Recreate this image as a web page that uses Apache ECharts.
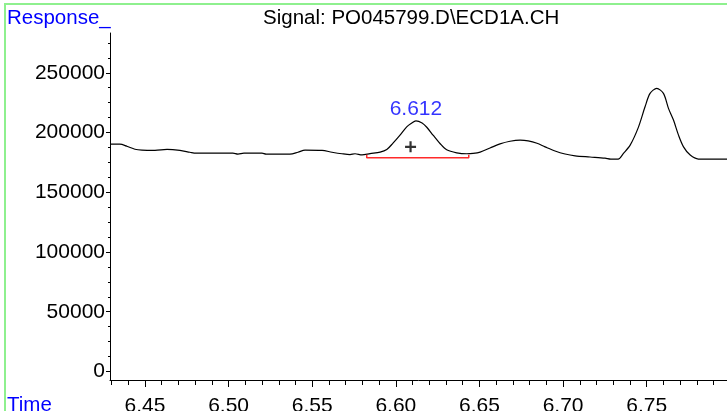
<!DOCTYPE html>
<html>
<head>
<meta charset="utf-8">
<script src="https://cdn.jsdelivr.net/npm/echarts@6/dist/echarts.min.js"></script>
<style>
html, body { margin: 0; padding: 0; background: #fff; }
#main { width: 727px; height: 411px; }
</style>
</head>
<body>
<div id="main"></div>
<script>
var chartDom = document.getElementById('main');
var myChart = echarts.init(chartDom);
var option;

// retention time (min) and detector response of the trace
var times = [6.4291, 6.4350, 6.4392, 6.4440, 6.4482, 6.4560, 6.4632, 6.4709, 6.4769, 6.4805,
    6.4919, 6.5026, 6.5056, 6.5092, 6.5200, 6.5224, 6.5367, 6.5415, 6.5457, 6.5559,
    6.5618, 6.5678, 6.5726, 6.5756, 6.5798, 6.5846, 6.5906, 6.5946, 6.5983, 6.6025,
    6.6065, 6.6091, 6.6120, 6.6157, 6.6185, 6.6224, 6.6264, 6.6304, 6.6364, 6.6424,
    6.6462, 6.6504, 6.6563, 6.6623, 6.6683, 6.6743, 6.6791, 6.6844, 6.6892, 6.6952,
    6.7012, 6.7072, 6.7161, 6.7251, 6.7285, 6.7329, 6.7361, 6.7401, 6.7450, 6.7490,
    6.7520, 6.7560, 6.7600, 6.7630, 6.7660, 6.7690, 6.7720, 6.7760, 6.7809, 6.7880, 6.7981];
var response = [190200, 190200, 188500, 186000, 185200, 185000, 185800, 185000, 183500, 182700,
    182700, 182700, 181900, 182700, 182700, 181900, 181900, 183500, 185200, 185000,
    183500, 182200, 181500, 182200, 181300, 182400, 183600, 185800, 191100, 197800,
    204700, 207500, 209800, 208000, 204400, 197500, 190800, 185500, 183000, 182200,
    182500, 183600, 187000, 190500, 192700, 193600, 193000, 191000, 188000, 184500,
    182000, 180500, 179500, 178500, 177700, 177700, 182500, 189400, 204300, 221500,
    232700, 236900, 232700, 220200, 210400, 197800, 188000, 181100, 177800, 177800, 177800];

// integrated peak
var peakTime = 6.612;
var peakHeight = 209800;
var peakLabel = '6.612';
var apexMark = [6.6088, 188000];
var baseStart = 6.5826;
var baseEnd = 6.6436;
var baseLevel = 178800;
var baseTickTop = 181300;

// axis ticks
var xMajor = [6.45, 6.50, 6.55, 6.60, 6.65, 6.70, 6.75];
var xMinor = [6.43, 6.44, 6.46, 6.47, 6.48, 6.49, 6.51, 6.52, 6.53, 6.54, 6.56, 6.57, 6.58, 6.59,
    6.61, 6.62, 6.63, 6.64, 6.66, 6.67, 6.68, 6.69, 6.71, 6.72, 6.73, 6.74, 6.76, 6.77, 6.78, 6.79];
var yMajor = [0, 50000, 100000, 150000, 200000, 250000];
var yMinor = [12500, 25000, 37500, 62500, 75000, 87500, 112500, 125000, 137500, 162500,
    175000, 187500, 212500, 225000, 237500, 262500, 275000];

var xMin = 6.4291, xMax = 6.798;
var yMin = -7120, yMax = 283270;

var font = 'Liberation Sans, Arial, sans-serif';

var trace = times.map(function (t, i) { return [t, response[i]]; });
var baseline = [[baseStart, baseTickTop], [baseStart, baseLevel], [baseEnd, baseLevel], [baseEnd, baseTickTop]];

function xAxisDef(ticks, len, showLine, showLabels) {
    return {
        type: 'value', min: xMin, max: xMax, position: 'bottom',
        axisLine: { show: showLine, onZero: false, lineStyle: { color: '#000', width: 1 } },
        axisTick: { show: true, customValues: ticks, length: len, lineStyle: { color: '#000' } },
        axisLabel: {
            show: showLabels, customValues: ticks, margin: 16,
            fontFamily: font, fontSize: 21, color: '#000',
            formatter: function (v) { return v.toFixed(2); }
        },
        splitLine: { show: false }
    };
}
function yAxisDef(ticks, len, showLine, showLabels) {
    return {
        type: 'value', min: yMin, max: yMax, position: 'left',
        axisLine: { show: showLine, onZero: false, lineStyle: { color: '#000', width: 1 } },
        axisTick: { show: true, customValues: ticks, length: len, lineStyle: { color: '#000' } },
        axisLabel: {
            show: showLabels, customValues: ticks, margin: 5,
            fontFamily: font, fontSize: 21, color: '#000',
            formatter: function (v) { return String(v); }
        },
        splitLine: { show: false }
    };
}

option = {
    animation: false,
    backgroundColor: '#fff',
    title: {
        text: 'Signal: PO045799.D\\ECD1A.CH',
        left: 263, top: 8, padding: 0,
        textStyle: { fontFamily: font, fontSize: 20.5, fontWeight: 'normal', color: '#000' }
    },
    grid: { left: 110, right: 0, top: 33, bottom: 31, outerBoundsMode: 'none', containLabel: false },
    xAxis: [xAxisDef(xMajor, 7, true, true), xAxisDef(xMinor, 5, false, false)],
    yAxis: [yAxisDef(yMajor, 4, true, true), yAxisDef(yMinor, 2, false, false)],
    graphic: [
        { type: 'rect', shape: { x: 5, y: 4, width: 730, height: 420 }, style: { fill: 'none', stroke: '#8ef08e', lineWidth: 2 } },
        { type: 'text', left: 7, top: 8, style: { text: 'Response_', fontFamily: font, fontSize: 20.5, fill: '#0000ff' } },
        { type: 'text', left: 7, top: 395, style: { text: 'Time', fontFamily: font, fontSize: 20.5, fill: '#0000ff' } }
    ],
    series: [
        {
            type: 'line', data: trace, showSymbol: false, smooth: 0.3,
            lineStyle: { color: '#000', width: 1.2 }
        },
        {
            type: 'line', data: baseline, showSymbol: false,
            lineStyle: { color: '#ff2a2a', width: 1.5 }
        },
        {
            type: 'scatter', data: [apexMark], symbol: 'path://M4,0H6V4H10V6H6V10H4V6H0V4H4Z',
            symbolSize: 11, itemStyle: { color: '#000' }
        },
        {
            type: 'scatter', data: [[peakTime, peakHeight]], symbolSize: 0,
            label: {
                show: true, position: 'top', distance: 1, formatter: peakLabel,
                fontFamily: font, fontSize: 21, color: '#0000ff'
            }
        }
    ]
};

option && myChart.setOption(option);
</script>
</body>
</html>
